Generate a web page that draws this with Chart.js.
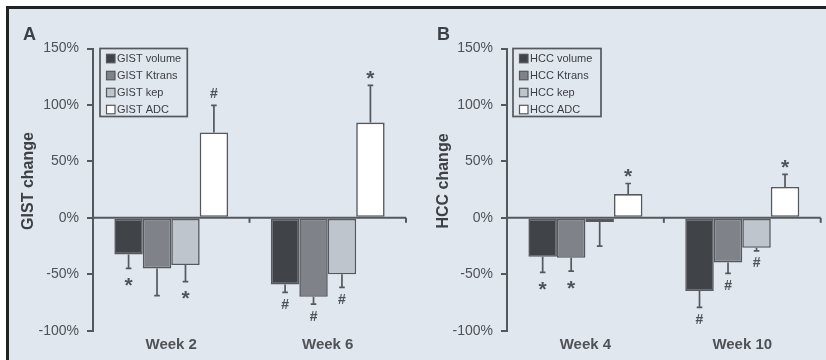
<!DOCTYPE html>
<html><head><meta charset="utf-8">
<script src="https://cdn.jsdelivr.net/npm/chart.js@4.4.1/dist/chart.umd.min.js"></script>
<style>
html,body{margin:0;padding:0;background:#fff;width:826px;height:360px;overflow:hidden}
#frame{position:absolute;left:6px;top:6px;right:0;bottom:0;border-top:3px solid #222;border-left:3px solid #222;background:#e1e7ef}
.panel{position:absolute;top:0;width:413px;height:360px}
#pA{left:0}#pB{left:413px}
canvas{display:block}
</style></head><body>
<div id="frame"></div>
<div class="panel" id="pA"><canvas id="cA" width="413" height="360"></canvas></div>
<div class="panel" id="pB"><canvas id="cB" width="413" height="360"></canvas></div>
<script>
// ---- data ----
const weeksA = ['Week 2', 'Week 6'];
const weeksB = ['Week 4', 'Week 10'];
const seriesA = ['GIST volume', 'GIST Ktrans', 'GIST kep', 'GIST ADC'];
const seriesB = ['HCC volume', 'HCC Ktrans', 'HCC kep', 'HCC ADC'];
const yTicks = [-100, -50, 0, 50, 100, 150];

const gistVolume = [-32.4, -59.0];
const gistKtrans = [-44.8, -70.0];
const gistKep    = [-41.9, -50.0];
const gistADC    = [75.6, 84.4];
const gistVolumeErr = [12.4, 7.0];
const gistKtransErr = [24.2, 6.4];
const gistKepErr    = [14.7, 11.6];
const gistADCErr    = [24.1, 33.0];
const gistVolumeSig = ['*', '#'];
const gistKtransSig = ['', '#'];
const gistKepSig    = ['*', '#'];
const gistADCSig    = ['#', '*'];

const hccVolume = [-34.5, -64.9];
const hccKtrans = [-35.4, -39.5];
const hccKep    = [-3.8, -26.5];
const hccADC    = [21.0, 27.4];
const hccVolumeErr = [13.8, 14.4];
const hccKtransErr = [11.8, 9.7];
const hccKepErr    = [21.2, 2.7];
const hccADCErr    = [9.4, 11.0];
const hccVolumeSig = ['*', '#'];
const hccKtransSig = ['*', '#'];
const hccKepSig    = ['', '#'];
const hccADCSig    = ['*', '*'];

// ---- styles ----
const fills = ['#404347', '#7f8389', '#bfc5cc', '#ffffff'];
const edge = '#55585d';
const textCol = '#4f5256';
const FONT = "'Liberation Sans', Arial, sans-serif";

const annoPlugin = {
  id: 'anno',
  afterDatasetsDraw(chart) {
    const ctx = chart.ctx, y = chart.scales.y, ca = chart.chartArea;
    ctx.save();
    // zero line
    const y0 = y.getPixelForValue(0);
    ctx.strokeStyle = edge; ctx.lineWidth = 2;
    ctx.beginPath(); ctx.moveTo(ca.left, y0); ctx.lineTo(ca.right, y0); ctx.stroke();
    // category boundary ticks
    const n = chart.data.labels.length;
    const w = (ca.right - ca.left) / n;
    for (let i = 1; i <= n; i++) {
      const bx = ca.left + w * i;
      ctx.beginPath(); ctx.moveTo(bx, y0); ctx.lineTo(bx, y0 + 5); ctx.stroke();
    }
    // error bars + significance marks
    ctx.lineWidth = 1.7;
    chart.data.datasets.forEach((ds, di) => {
      const meta = chart.getDatasetMeta(di);
      meta.data.forEach((bar, j) => {
        const v = ds.data[j], e = ds.err[j];
        const end = v >= 0 ? v + e : v - e;
        const py = y.getPixelForValue(end);
        const pv = y.getPixelForValue(v);
        ctx.beginPath(); ctx.moveTo(bar.x, pv); ctx.lineTo(bar.x, py);
        ctx.moveTo(bar.x - 2.8, py); ctx.lineTo(bar.x + 2.8, py); ctx.stroke();
        const s = ds.sig[j];
        if (s) {
          const c = v >= 0 ? py - 12.5 : py + 11.5;
          ctx.fillStyle = textCol;
          ctx.textAlign = 'center'; ctx.textBaseline = 'alphabetic';
          if (s === '*') {
            ctx.font = 'bold 21px ' + FONT;
            ctx.fillText(s, bar.x, c + 12);
          } else {
            ctx.font = 'bold 14px ' + FONT;
            ctx.fillText(s, bar.x, c + 5);
          }
        }
      });
    });
    ctx.restore();
  },
  afterDraw(chart) {
    const ctx = chart.ctx, ca = chart.chartArea;
    const o = chart.options.plugins.anno;
    ctx.save();
    // panel letter
    ctx.fillStyle = '#3d4044';
    ctx.font = 'bold 18px ' + FONT;
    ctx.textAlign = 'left'; ctx.textBaseline = 'alphabetic';
    ctx.fillText(o.letter, o.letterX, 39.5);
    // y axis title
    ctx.save();
    ctx.translate(o.titleX, 181);
    ctx.rotate(-Math.PI / 2);
    ctx.font = 'bold 16px ' + FONT;
    ctx.textAlign = 'center'; ctx.textBaseline = 'middle';
    ctx.fillText(chart.options.scales.y.title.text, 0, 0);
    ctx.restore();
    // legend box
    const lx = ca.left + o.legDx, ly = 48.5, lw = o.legW, lh = 68;
    ctx.strokeStyle = edge; ctx.lineWidth = 1.7;
    ctx.strokeRect(lx, ly, lw, lh);
    ctx.font = '11px ' + FONT;
    ctx.textBaseline = 'middle';
    chart.data.datasets.forEach((ds, i) => {
      const cy = ly + 10 + i * 17;
      ctx.fillStyle = ds.backgroundColor;
      ctx.fillRect(lx + 6.5, cy - 4.2, 8.5, 8.5);
      ctx.lineWidth = 1.2; ctx.strokeStyle = edge;
      ctx.strokeRect(lx + 6.5, cy - 4.2, 8.5, 8.5);
      ctx.fillStyle = '#3b3e42';
      ctx.fillText(ds.label, lx + 17, cy + 0.5);
    });
    ctx.restore();
  }
};

function makeChart(id, labels, names, vals, errs, sigs, opts) {
  return new Chart(document.getElementById(id), {
    type: 'bar',
    data: {
      labels: labels,
      datasets: names.map((n, i) => ({
        label: n, data: vals[i], err: errs[i], sig: sigs[i],
        backgroundColor: fills[i], borderColor: edge, borderWidth: 1.6,
        borderSkipped: false, categoryPercentage: 0.727, barPercentage: 1.0
      }))
    },
    options: {
      responsive: false, animation: false,
      layout: { padding: { left: 0, right: opts.padRight, top: 48.5, bottom: 0 } },
      plugins: { legend: { display: false }, tooltip: { enabled: false },
        anno: { letter: opts.letter, letterX: opts.letterX, legDx: opts.legDx, legW: opts.legW, titleX: opts.titleX } },
      scales: {
        x: {
          grid: { display: false, drawTicks: false },
          border: { display: false },
          ticks: { color: textCol, padding: 5, font: { family: FONT, size: 15, weight: 'bold' } },
          afterFit: s => { s.height = 29.3; }
        },
        y: {
          min: -100, max: 150,
          afterBuildTicks: s => { s.ticks = yTicks.map(v => ({ value: v })); },
          grid: { drawOnChartArea: false, drawTicks: true, tickLength: 6, color: edge, lineWidth: 2 },
          border: { display: true, color: edge, width: 2 },
          ticks: { color: textCol, padding: 8, font: { family: FONT, size: 14 }, callback: v => v + '%' },
          title: { display: false, text: opts.title },
          afterFit: s => { s.width = opts.axisLeft; }
        }
      }
    },
    plugins: [annoPlugin]
  });
}

makeChart('cA', weeksA, seriesA,
  [gistVolume, gistKtrans, gistKep, gistADC],
  [gistVolumeErr, gistKtransErr, gistKepErr, gistADCErr],
  [gistVolumeSig, gistKtransSig, gistKepSig, gistADCSig],
  { letter: 'A', letterX: 23, legDx: 7, legW: 87.3, title: 'GIST change', titleX: 29, axisLeft: 93, padRight: 7 });

makeChart('cB', weeksB, seriesB,
  [hccVolume, hccKtrans, hccKep, hccADC],
  [hccVolumeErr, hccKtransErr, hccKepErr, hccADCErr],
  [hccVolumeSig, hccKtransSig, hccKepSig, hccADCSig],
  { letter: 'B', letterX: 24, legDx: 6, legW: 88, title: 'HCC change', titleX: 31, axisLeft: 94, padRight: 5.3 });
</script>
</body></html>
